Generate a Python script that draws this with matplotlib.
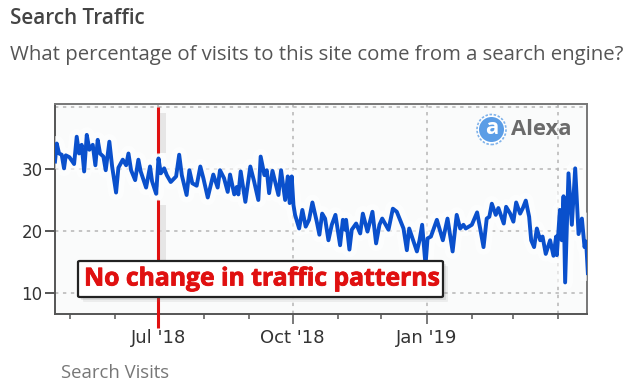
import datetime as dt
import matplotlib
matplotlib.use("Agg")
import matplotlib.pyplot as plt
import matplotlib.dates as mdates
import matplotlib.patheffects as pe
from matplotlib.patches import Ellipse, FancyBboxPatch, Rectangle
from matplotlib.transforms import blended_transform_factory

START = dt.date(2018, 4, 21)
day_offsets = [0, 1.2, 2.8, 4.6, 6.2, 7.4, 9.9, 13.1, 14.9, 16.5, 18.3, 20, 21.8, 23.6, 25.9, 27.7, 29.3, 30.9, 33.2,
               34.8, 37.3, 39.2, 41.9, 43.5, 46.5, 48.8, 50.4, 52.2, 55, 57.2, 58.8, 62.5, 65.2, 66.6, 69.4, 71, 72.6,
               74.9, 76.7, 79.4, 83.1, 85.2, 87, 90.3, 92.2, 94.2, 97.2, 99.7, 101.8, 104.8, 108.6, 111.6, 113.2, 116,
               118.5, 120.1, 123, 124.7, 125.8, 127.4, 130.6, 134, 136.6, 139.5, 141.1, 143.7, 145.3, 146.9, 149.2,
               153.3, 155.1, 157.9, 159.7, 161, 162.4, 163.6, 164.7, 167.5, 169.7, 172, 174.3, 176.6, 179.6, 181.4,
               183.3, 185.3, 187.6, 189.9, 192.4, 195.6, 197.5, 199.1, 199.7, 202, 203.6, 206.6, 209.4, 211.2, 214.4,
               217.8, 220.3, 222.6, 224.5, 228.8, 231.8, 234.5, 239.1, 241.4, 243, 246, 248.3, 250.1, 251.9, 254.2,
               255.6, 257.9, 262, 266.1, 269.3, 272.8, 275.6, 278, 280.2, 281.8, 286, 289.6, 291.7, 294, 296.2, 298,
               299.7, 302.4, 304.2, 307.9, 309.5, 312.3, 314.5, 316.4, 319.1, 321, 323, 325.3, 326.7, 328.7, 330.6,
               332.9, 334.5, 336.7, 339.7, 342, 343.8, 344.3, 346.4, 347.7, 348.9, 350, 352.3, 354.6, 356.9, 359.2,
               361.5, 363.3, 364.4, 365.6]
search_visits = [31.2, 34.1, 32.5, 32.3, 30.1, 32.2, 31.9, 30.8, 35.2, 32.5, 33.9, 29.6, 35.5, 33.1, 33.9, 30.6, 34.7,
                 32.5, 32, 29.8, 34.4, 30.4, 26.2, 30.2, 31.5, 30.6, 32.5, 29.8, 28.2, 31.5, 29.6, 27, 30.4, 28, 26,
                 31.7, 29.3, 30.1, 29, 27.9, 28.8, 32.3, 29, 25.8, 29.8, 27.7, 27.3, 30.4, 28.5, 25.4, 29.1, 27, 29.8,
                 28.5, 26.3, 29.1, 25.9, 27.1, 25.9, 29.6, 24.7, 30.4, 28, 25, 32, 29, 29.8, 26.1, 29.7, 25.8, 29.8,
                 25, 28.8, 24.5, 28.8, 24.2, 22.6, 20.4, 23.4, 20.7, 21.8, 24.6, 21.5, 19.4, 22.8, 22, 18.5, 21, 22.6,
                 17.7, 21.8, 20.2, 21.8, 17, 20.2, 21.2, 19.6, 22.8, 19.9, 23.1, 18, 21, 22, 20.2, 23.6, 23.1, 20.4,
                 16.9, 20.4, 18.3, 16.7, 18.5, 21, 14.5, 18.8, 19.1, 21.8, 18.5, 22, 16.7, 22.6, 20.4, 21, 20.4, 21,
                 23, 20.4, 17.4, 22, 22.3, 24.4, 22.6, 23.7, 21.2, 23.9, 22.8, 21.5, 24.6, 22.8, 23.7, 24.9, 22.3,
                 18.5, 17.4, 20.4, 18.5, 19.1, 16.3, 18.5, 16, 19.1, 16.1, 23.4, 18.5, 25.6, 11.7, 29.3, 21, 30.1,
                 19.5, 22, 17.4, 18.3, 13.2]
y_ticks = [10, 20, 30]
major_dates = [dt.date(2018, 7, 1), dt.date(2018, 10, 1), dt.date(2019, 1, 1)]
major_labels = ["Jul '18", "Oct '18", "Jan '19"]
grid_dates = major_dates + [dt.date(2019, 4, 1)]
minor_dates = [dt.date(2018, 5, 1), dt.date(2018, 6, 1), dt.date(2018, 8, 1), dt.date(2018, 9, 1),
               dt.date(2018, 11, 1), dt.date(2018, 12, 1), dt.date(2019, 2, 1), dt.date(2019, 3, 1),
               dt.date(2019, 4, 1)]

W, H = 634, 380
fig = plt.figure(figsize=(W / 100, H / 100), dpi=100)
ax = fig.add_axes([55 / W, 1 - 314 / H, 532 / W, 210 / H])
ax.set_facecolor("#fafbfb")

xnum = [mdates.date2num(START) + d for d in day_offsets]
ax.set_xlim(mdates.date2num(START), mdates.date2num(START) + 365)
ax.set_ylim(6.61, 40.48)

for v in y_ticks + [40]:
    ax.axhline(v, color="#b5b5b5", lw=1.1, ls=(0, (2.2, 3)), zorder=1)
for d in grid_dates:
    ax.axvline(mdates.date2num(d), color="#b5b5b5", lw=1.1, ls=(0, (2.2, 3)), zorder=1)

ax.plot(xnum, search_visits, color="#0a50cc", lw=2.8, solid_joinstyle="round", zorder=3,
        path_effects=[pe.Stroke(linewidth=11, foreground="#ffffff", alpha=0.6), pe.Normal()])

ax.set_yticks(y_ticks)
ax.set_xticks([mdates.date2num(d) for d in major_dates])
ax.set_xticklabels(major_labels)
ax.set_xticks([mdates.date2num(d) for d in minor_dates], minor=True)
ax.tick_params(axis="y", length=7, width=1.4, color="#555555", labelsize=12, labelcolor="#333333", pad=2)
ax.tick_params(axis="x", which="major", length=7, width=1.1, color="#555555", labelsize=13,
               labelcolor="#333333", pad=3.5)
ax.tick_params(axis="x", which="minor", length=3.5, width=1.1, color="#555555")
for s in ax.spines.values():
    s.set_color("#555555")
    s.set_linewidth(1.4)
ax.spines["top"].set_color("#777777")
ax.spines["right"].set_color("#777777")

def px_x(p): return p / W
def px_y(p): return 1 - p / H

tf = fig.transFigure
cx, cy = 491.5, 129.5
fig.add_artist(Ellipse((px_x(cx), px_y(cy)), 29 / W, 30 / H, transform=tf, fc="#ffffff",
                       ec="#7fb2ea", lw=1.2, ls=(0, (1.5, 1)), zorder=6))
fig.add_artist(Ellipse((px_x(cx), px_y(cy)), 25 / W, 25 / H, transform=tf, fc="#5b9de6", ec="none", zorder=6))
fig.text(px_x(cx), px_y(cy - 1), "a", color="white", fontsize=16, fontweight="bold", family="Open Sans",
         ha="center", va="center", zorder=7)
fig.text(px_x(511), px_y(130), "Alexa", color="#6b6b6b", fontsize=15.8, fontweight="bold", family="Open Sans",
         ha="left", va="center", zorder=7)

xj = mdates.date2num(dt.date(2018, 7, 1))
bt = blended_transform_factory(ax.transData, fig.transFigure)
for y0, y1 in [(107, 153), (200, 262), (296, 328)]:
    fig.add_artist(plt.Line2D([xj, xj], [px_y(y0), px_y(y1)], transform=bt, color="#e01010", lw=2.2,
                              solid_capstyle="butt", zorder=9))
for y0, y1 in [(113, 153), (205, 262)]:
    fig.add_artist(Rectangle((px_x(160), px_y(y1)), 6 / W, (y1 - y0) / H, transform=tf, fc="#dcdcdc",
                             ec="none", alpha=0.65, zorder=2))

for off, a in [(5, 0.10), (3, 0.16)]:
    fig.add_artist(FancyBboxPatch((px_x(78 + off), px_y(297 + off)), 365 / W, 36 / H, transform=tf,
                                  boxstyle="round,pad=0,rounding_size=0.002", fc="#777777", ec="none",
                                  alpha=a, zorder=10))
fig.add_artist(FancyBboxPatch((px_x(78), px_y(297)), 365 / W, 36 / H, transform=tf,
                              boxstyle="round,pad=0,rounding_size=0.003", fc="white", ec="#222222",
                              lw=1.6, zorder=11))
fig.text(px_x(262), px_y(279), "No change in traffic patterns", color="#e01010", fontsize=17.8,
         fontweight="bold", family="Open Sans", ha="center", va="center", zorder=12,
         path_effects=[pe.withStroke(linewidth=0.6, foreground="#e01010")])

fig.text(px_x(10), px_y(18), "Search Traffic", color="#444444", fontsize=14.9, fontweight="semibold",
         family="Open Sans", ha="left", va="center")
fig.text(px_x(10), px_y(55), "What percentage of visits to this site come from a search engine?", color="#555555",
         fontsize=14.7, family="Open Sans", ha="left", va="center")
fig.text(px_x(61), px_y(377.5), "Search Visits", color="#777777", fontsize=13.3, family="Open Sans",
         ha="left", va="baseline")

fig.savefig("out.png", dpi=100)
